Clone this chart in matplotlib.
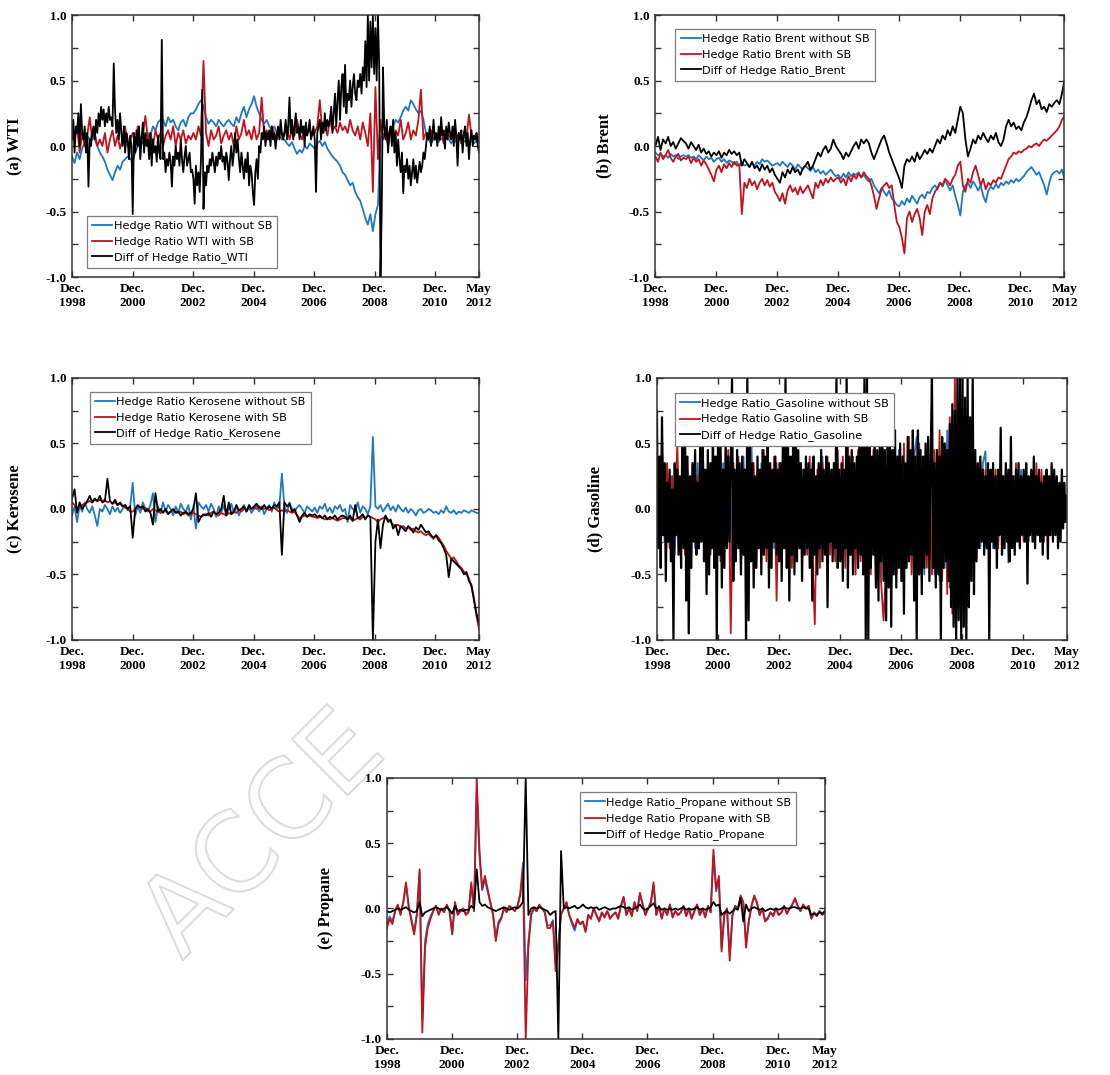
import numpy as np
import matplotlib
matplotlib.use("Agg")
import matplotlib.pyplot as plt
import matplotlib.patheffects as pe
from matplotlib.ticker import MultipleLocator

# time axis: Dec 1998 .. May 2012 (decimal years)
T_START = 1998.92
T_END = 2012.37
tick_pos = [1998.92, 2000.92, 2002.92, 2004.92, 2006.92, 2008.92, 2010.92, 2012.37]
tick_lab = ["Dec.\n1998", "Dec.\n2000", "Dec.\n2002", "Dec.\n2004", "Dec.\n2006",
            "Dec.\n2008", "Dec.\n2010", "May\n2012"]

# ---------------- (a) WTI ----------------
wti_without = [
    -0.08, -0.13, -0.05, -0.10, -0.02, 0.03, 0.08, 0.05, 0.10, 0.05, 0.00, -0.05,
    -0.08, -0.12, -0.18, -0.22, -0.26, -0.20, -0.15, -0.18, -0.12, -0.10, -0.08, -0.10,
    -0.11, -0.05, 0.00, 0.05, 0.02, 0.07, 0.10, 0.08, 0.15, 0.12, 0.18, 0.20,
    0.20, 0.15, 0.22, 0.18, 0.20, 0.15, 0.12, 0.18, 0.20, 0.15, 0.22, 0.25,
    0.25, 0.28, 0.32, 0.35, 0.30, 0.22, 0.17, 0.20, 0.18, 0.15, 0.20, 0.17,
    0.15, 0.18, 0.20, 0.17, 0.15, 0.22, 0.18, 0.25, 0.30, 0.22, 0.28, 0.32,
    0.38, 0.30, 0.25, 0.20, 0.17, 0.20, 0.15, 0.12, 0.15, 0.10, 0.08, 0.05,
    0.05, 0.02, 0.00, 0.03, -0.02, -0.06, -0.03, -0.05, 0.00, -0.02, 0.02, 0.00,
    -0.02, 0.02, 0.04, 0.00, 0.03, -0.02, -0.05, -0.08, -0.10, -0.12, -0.15, -0.20,
    -0.22, -0.26, -0.30, -0.28, -0.35, -0.39, -0.42, -0.48, -0.55, -0.60, -0.52, -0.65,
    -0.52, -0.45, 0.05, 0.09, 0.10, 0.08, 0.12, 0.15, 0.20, 0.18, 0.22, 0.27,
    0.30, 0.27, 0.35, 0.32, 0.28, 0.25, 0.27, 0.20, 0.10, 0.05, 0.02, 0.05,
    0.05, 0.03, 0.06, 0.04, 0.08, 0.05, 0.02, 0.05, 0.03, 0.06, 0.02, 0.04,
    0.03, 0.00, 0.05, 0.02, 0.04, 0.00]
wti_with = [
    0.10, 0.05, 0.15, -0.05, 0.10, 0.00, 0.08, 0.22, 0.05, 0.10, 0.00, 0.05,
    0.00, 0.10, -0.05, 0.05, 0.12, 0.00, 0.08, -0.02, 0.05, 0.15, 0.00, 0.05,
    0.10, 0.00, 0.15, 0.05, 0.08, 0.23, 0.05, 0.10, 0.00, 0.12, 0.05, 0.10,
    0.00, 0.08, 0.12, 0.05, 0.15, 0.00, 0.10, 0.05, 0.12, 0.02, 0.08, 0.05,
    0.10, 0.05, 0.15, 0.08, 0.65, 0.10, 0.00, 0.12, 0.05, 0.08, 0.15, 0.02,
    0.08, 0.12, 0.05, 0.10, 0.00, 0.15, 0.05, 0.10, 0.20, 0.08, 0.12, 0.05,
    0.15, 0.05, 0.10, 0.37, 0.08, 0.12, 0.05, 0.15, 0.10, 0.05, 0.12, 0.08,
    0.10, 0.15, 0.05, 0.12, 0.08, 0.20, 0.10, 0.05, 0.15, 0.10, 0.12, 0.08,
    0.10, 0.15, 0.35, 0.10, 0.15, 0.08, 0.20, 0.12, 0.15, 0.10, 0.18, 0.12,
    0.15, 0.10, 0.20, 0.12, 0.08, 0.15, 0.05, 0.18, 0.10, 0.00, 0.25, -0.35,
    0.45, -0.10, 0.20, 0.05, 0.10, 0.00, 0.15, 0.05, 0.12, 0.08, 0.20, 0.05,
    0.10, 0.18, 0.05, 0.12, 0.08, 0.20, 0.43, 0.05, 0.10, 0.08, 0.12, 0.05,
    0.08, 0.05, 0.12, 0.02, 0.10, 0.08, 0.05, 0.15, 0.05, 0.10, 0.02, 0.08,
    0.05, 0.24, 0.08, 0.05, 0.10, 0.02]
wti_diff = [
    0.05, 0.20, -0.05, 0.15, 0.10, 0.25, 0.00, 0.32, 0.10, 0.05, 0.15, -0.05,
    0.10, -0.31, 0.05, 0.00, 0.10, 0.15, 0.05, 0.20, 0.10, 0.25, 0.15, 0.30,
    0.20, 0.28, 0.15, 0.25, 0.18, 0.30, 0.20, 0.22, 0.15, 0.63, 0.28, 0.10,
    0.20, 0.05, 0.25, 0.10, 0.00, 0.15, -0.05, 0.10, 0.05, -0.10, 0.08, 0.00,
    -0.52, 0.10, -0.05, 0.12, 0.00, 0.15, -0.10, 0.05, 0.18, -0.05, 0.10, 0.00,
    0.05, -0.10, 0.10, -0.15, 0.05, -0.05, 0.00, -0.12, 0.08, -0.05, -0.10, 0.81,
    -0.10, -0.05, -0.20, -0.10, -0.15, -0.05, -0.12, -0.31, -0.08, -0.15, 0.00, -0.10,
    -0.05, -0.15, 0.05, -0.10, -0.20, -0.08, 0.00, -0.15, -0.10, -0.05, -0.20, -0.18,
    -0.25, -0.44, -0.15, -0.30, -0.20, -0.35, -0.10, 0.43, -0.48, -0.20, -0.30, -0.15,
    -0.20, -0.10, -0.15, -0.05, -0.12, -0.20, -0.08, -0.15, -0.05, -0.10, 0.00, -0.12,
    -0.08, -0.18, -0.05, -0.12, -0.26, -0.10, 0.00, -0.15, -0.05, 0.10, -0.05, 0.05,
    -0.10, -0.20, -0.05, -0.15, -0.25, -0.10, -0.20, -0.05, -0.30, -0.15, -0.20, -0.35,
    -0.45, -0.20, -0.10, -0.25, 0.00, -0.05, 0.10, 0.05, 0.15, 0.00, 0.10, 0.05,
    0.12, 0.00, 0.15, 0.05, 0.10, -0.02, 0.08, 0.15, 0.05, 0.20, 0.10, 0.05,
    0.10, 0.20, 0.05, 0.15, 0.37, 0.10, 0.20, 0.05, 0.15, 0.25, 0.10, 0.15,
    0.05, 0.20, 0.10, 0.15, 0.00, 0.18, 0.08, 0.12, 0.20, 0.05, 0.10, 0.15,
    0.05, -0.35, 0.10, 0.15, 0.20, 0.05, 0.18, 0.10, 0.25, 0.12, 0.20, 0.15,
    0.20, 0.30, 0.10, 0.25, 0.40, 0.15, 0.35, 0.50, 0.20, 0.45, 0.55, 0.30,
    0.62, 0.25, 0.40, 0.35, 0.50, 0.30, 0.45, 0.55, 0.40, 0.35, 0.50, 0.45,
    0.55, 0.40, 0.60, 0.50, 0.80, 0.45, 1.00, 0.50, 0.95, 0.60, 1.00, 0.55,
    0.90, 0.50, 1.00, 0.60, -1.00, -0.48, 0.60, 0.15, 0.05, 0.20, -0.05, 0.10,
    0.15, 0.00, 0.20, -0.05, 0.10, -0.15, 0.05, -0.10, -0.20, -0.05, -0.36, -0.15,
    -0.20, -0.10, -0.25, -0.15, -0.30, -0.20, -0.10, -0.25, -0.15, -0.28, -0.20, -0.12,
    -0.20, -0.15, -0.05, -0.10, 0.00, 0.10, 0.05, 0.15, 0.00, 0.08, 0.20, 0.05,
    0.10, 0.00, 0.15, 0.05, 0.22, 0.08, 0.12, -0.02, 0.15, 0.05, 0.18, 0.10,
    0.05, 0.15, 0.00, 0.20, 0.08, -0.15, 0.10, 0.05, 0.12, -0.05, 0.10, 0.15,
    0.00, 0.10, -0.10, 0.05, 0.12, 0.00, 0.08, 0.05, 0.10, 0.00, -0.05]

# ---------------- (b) Brent ----------------
brent_without = [
    -0.05, -0.07, -0.06, -0.08, -0.07, -0.09, -0.06, -0.08, -0.07, -0.10, -0.08, -0.07,
    -0.08, -0.07, -0.09, -0.08, -0.10, -0.07, -0.09, -0.11, -0.08, -0.10, -0.09, -0.12,
    -0.10, -0.09, -0.12, -0.10, -0.13, -0.11, -0.12, -0.14, -0.12, -0.15, -0.13, -0.15,
    -0.14, -0.16, -0.13, -0.15, -0.12, -0.14, -0.10, -0.12, -0.11, -0.13, -0.15, -0.14,
    -0.13, -0.15, -0.12, -0.14, -0.16, -0.13, -0.15, -0.18, -0.14, -0.16, -0.18, -0.15,
    -0.17, -0.19, -0.16, -0.20, -0.18, -0.21, -0.19, -0.22, -0.20, -0.18, -0.21, -0.23,
    -0.22, -0.25, -0.21, -0.24, -0.20, -0.23, -0.21, -0.22, -0.20, -0.24, -0.22, -0.25,
    -0.27, -0.25, -0.30, -0.33, -0.36, -0.32, -0.35, -0.38, -0.34, -0.40, -0.42, -0.45,
    -0.46, -0.42, -0.45, -0.40, -0.43, -0.38, -0.41, -0.44, -0.39, -0.37, -0.40, -0.35,
    -0.36, -0.32, -0.30, -0.33, -0.28, -0.31, -0.26, -0.30, -0.34, -0.30, -0.38, -0.45,
    -0.53, -0.35, -0.30, -0.28, -0.32, -0.27, -0.30, -0.34, -0.30, -0.38, -0.43, -0.34,
    -0.31, -0.33, -0.29, -0.32, -0.28, -0.30, -0.27, -0.29, -0.26, -0.28, -0.25, -0.27,
    -0.25, -0.23, -0.20, -0.18, -0.16, -0.19, -0.22, -0.20, -0.25, -0.30, -0.37, -0.28,
    -0.22, -0.20, -0.19, -0.21, -0.18, -0.25]
brent_with = [
    -0.08, -0.12, -0.05, -0.10, -0.07, -0.03, -0.09, -0.12, -0.08, -0.06, -0.11, -0.09,
    -0.10, -0.08, -0.13, -0.09, -0.12, -0.10, -0.15, -0.11, -0.14, -0.18, -0.22, -0.27,
    -0.18, -0.15, -0.20, -0.14, -0.17, -0.13, -0.16, -0.12, -0.15, -0.14, -0.52, -0.28,
    -0.32, -0.25, -0.30, -0.27, -0.33, -0.28, -0.25, -0.30, -0.26, -0.31, -0.28, -0.35,
    -0.38, -0.42, -0.36, -0.44, -0.34, -0.30, -0.35, -0.32, -0.37, -0.31, -0.36, -0.33,
    -0.30, -0.35, -0.40, -0.28, -0.32, -0.26, -0.30, -0.25, -0.28, -0.24, -0.27, -0.25,
    -0.24, -0.28, -0.25, -0.30, -0.23, -0.27, -0.22, -0.25, -0.21, -0.24, -0.20, -0.23,
    -0.25, -0.30, -0.38, -0.48, -0.40, -0.33, -0.30, -0.28, -0.32, -0.30, -0.45, -0.58,
    -0.62, -0.70, -0.82, -0.55, -0.50, -0.58, -0.52, -0.48, -0.55, -0.68, -0.50, -0.45,
    -0.52, -0.40, -0.35, -0.32, -0.28, -0.30, -0.25, -0.27, -0.30, -0.25, -0.22, -0.15,
    -0.12, -0.30, -0.35, -0.25, -0.28, -0.20, -0.15, -0.22, -0.30, -0.25, -0.33, -0.28,
    -0.30, -0.26, -0.28, -0.24, -0.25, -0.20, -0.15, -0.10, -0.08, -0.05, -0.06, -0.04,
    -0.05, -0.03, -0.02, 0.00, -0.01, 0.01, 0.02, 0.00, 0.03, 0.05, 0.04, 0.06,
    0.08, 0.10, 0.12, 0.15, 0.20, 0.23]
brent_diff = [
    0.00, 0.07, -0.03, 0.05, 0.02, 0.07, 0.00, 0.03, -0.02, 0.02, 0.06, 0.04,
    0.02, -0.02, 0.03, 0.00, -0.03, 0.01, -0.05, -0.02, -0.06, -0.04, -0.08, -0.05,
    -0.07, -0.04, -0.09, -0.05, -0.07, -0.03, -0.06, -0.04, -0.07, -0.05, -0.15, -0.10,
    -0.13, -0.16, -0.12, -0.17, -0.15, -0.19, -0.14, -0.18, -0.15, -0.20, -0.17, -0.22,
    -0.25, -0.28, -0.20, -0.24, -0.18, -0.21, -0.16, -0.20, -0.18, -0.22, -0.17, -0.15,
    -0.12, -0.18, -0.15, -0.10, -0.05, -0.08, -0.03, 0.00, -0.05, -0.02, 0.05, 0.00,
    -0.03, -0.06, -0.10, -0.05, -0.08, -0.04, 0.00, 0.03, -0.02, 0.05, 0.02, 0.05,
    0.02, -0.05, -0.10, -0.05, 0.00, 0.05, 0.08, 0.02, -0.05, -0.10, -0.15, -0.20,
    -0.25, -0.32, -0.15, -0.10, -0.12, -0.08, -0.12, -0.05, -0.10, -0.07, -0.03, -0.06,
    -0.02, -0.05, 0.00, 0.05, 0.02, 0.08, 0.05, 0.12, 0.08, 0.15, 0.10, 0.20,
    0.30, 0.25, 0.05, -0.08, -0.02, 0.05, 0.02, 0.08, 0.05, 0.10, 0.06, 0.03,
    0.08, 0.05, 0.10, 0.03, 0.00, 0.05, 0.15, 0.20, 0.15, 0.18, 0.13, 0.15,
    0.12, 0.18, 0.22, 0.28, 0.35, 0.40, 0.32, 0.35, 0.28, 0.30, 0.26, 0.32,
    0.30, 0.33, 0.35, 0.32, 0.40, 0.50]

# ---------------- (c) Kerosene ----------------
kero_without = [
    -0.05, 0.02, -0.10, 0.03, -0.02, 0.05, 0.00, -0.03, 0.02, -0.05, -0.13, 0.00,
    -0.02, 0.03, 0.00, -0.04, 0.02, -0.02, 0.01, -0.03, 0.00, 0.03, -0.01, 0.02,
    0.20, -0.05, 0.02, -0.03, 0.05, 0.00, -0.02, 0.03, 0.12, -0.10, 0.02, -0.03,
    0.05, -0.02, 0.03, 0.00, -0.05, 0.02, -0.03, 0.04, 0.00, -0.02, 0.03, -0.08,
    0.02, -0.15, 0.05, 0.02, 0.00, 0.03, -0.02, 0.04, 0.00, -0.06, 0.02, -0.03,
    0.03, -0.05, 0.00, 0.04, -0.03, 0.02, -0.05, 0.00, 0.03, -0.02, 0.01, -0.03,
    0.00, 0.03, -0.02, 0.02, -0.04, 0.00, 0.03, -0.02, 0.05, 0.00, 0.02, 0.27,
    0.02, -0.03, 0.05, 0.00, -0.02, 0.01, 0.03, 0.00, -0.03, 0.02, 0.00, -0.02,
    0.01, -0.03, 0.02, 0.00, 0.04, -0.02, 0.01, -0.03, 0.02, 0.00, 0.03, -0.02,
    0.00, -0.10, 0.03, 0.00, -0.02, 0.05, -0.03, 0.02, 0.00, -0.04, 0.02, 0.55,
    0.02, 0.00, 0.03, -0.02, 0.01, 0.04, -0.01, 0.02, -0.02, 0.03, 0.00, -0.02,
    0.01, -0.03, 0.00, -0.02, -0.05, -0.01, 0.00, -0.03, -0.02, 0.00, -0.01, -0.03,
    -0.02, -0.04, -0.01, -0.03, 0.02, -0.02, -0.03, -0.01, -0.04, -0.02, -0.03, -0.01,
    -0.02, -0.03, -0.01, -0.02, -0.03, -0.03]
kero_with = [
    0.05, 0.03, 0.00, 0.02, 0.03, 0.04, 0.05, 0.06, 0.05, 0.07, 0.06, 0.07,
    0.06, 0.07, 0.05, 0.06, 0.04, 0.05, 0.03, 0.04, 0.02, 0.01, 0.00, -0.02,
    -0.02, 0.00, 0.02, 0.01, 0.00, 0.01, -0.01, -0.02, 0.00, -0.01, -0.02, -0.03,
    -0.02, -0.01, -0.03, -0.02, -0.01, -0.02, -0.03, -0.02, -0.04, -0.03, -0.05, -0.04,
    -0.03, -0.04, -0.05, -0.06, -0.05, -0.04, -0.05, -0.03, -0.02, -0.04, -0.05, -0.03,
    -0.04, -0.05, -0.03, -0.04, -0.02, -0.03, -0.01, -0.02, 0.00, -0.01, 0.01, 0.00,
    0.01, 0.00, 0.02, 0.01, 0.00, 0.01, -0.01, 0.00, 0.01, -0.01, -0.02, -0.01,
    -0.02, -0.01, -0.02, -0.03, -0.02, -0.05, -0.07, -0.06, -0.05, -0.06, -0.05, -0.06,
    -0.06, -0.07, -0.06, -0.07, -0.08, -0.07, -0.08, -0.07, -0.08, -0.09, -0.08, -0.07,
    -0.07, -0.08, -0.07, -0.09, -0.08, -0.07, -0.08, -0.06, -0.07, -0.05, -0.06, -0.07,
    -0.08, -0.10, -0.08, -0.07, -0.06, -0.08, -0.10, -0.12, -0.13, -0.12, -0.14, -0.13,
    -0.15, -0.14, -0.16, -0.15, -0.17, -0.18, -0.17, -0.19, -0.20, -0.19, -0.21, -0.23,
    -0.20, -0.22, -0.25, -0.28, -0.32, -0.35, -0.38, -0.37, -0.40, -0.43, -0.45, -0.48,
    -0.50, -0.53, -0.60, -0.68, -0.82, -0.92]
kero_diff = [
    0.08, 0.15, -0.03, 0.05, 0.00, 0.03, 0.06, 0.10, 0.05, 0.08, 0.06, 0.10,
    0.05, 0.06, 0.23, 0.06, 0.04, 0.07, 0.03, 0.05, 0.02, 0.03, 0.00, 0.02,
    -0.22, 0.00, 0.03, 0.01, 0.02, -0.02, 0.00, -0.03, -0.12, 0.12, -0.02, 0.00,
    -0.03, 0.00, -0.04, -0.02, 0.00, -0.03, -0.02, -0.05, -0.03, -0.02, -0.04, -0.03,
    0.00, 0.12, -0.10, -0.06, -0.04, -0.05, -0.03, -0.06, -0.02, -0.04, -0.03, 0.00,
    0.10, -0.05, 0.05, -0.04, -0.02, 0.03, -0.01, 0.00, 0.02, -0.02, 0.03, 0.00,
    0.02, 0.04, 0.01, 0.00, 0.03, 0.00, 0.02, 0.00, 0.03, 0.02, 0.05, -0.35,
    0.05, 0.02, 0.04, -0.02, 0.00, -0.05, -0.10, -0.05, -0.03, -0.06, -0.04, -0.05,
    -0.04, -0.06, -0.05, -0.07, -0.05, -0.08, -0.06, -0.07, -0.05, -0.08, -0.06, -0.05,
    -0.06, -0.08, -0.05, -0.09, 0.03, -0.07, -0.06, -0.04, -0.08, -0.05, -0.06, -1.00,
    -0.25, -0.08, -0.30, -0.12, -0.05, -0.10, -0.08, -0.15, -0.12, -0.20, -0.13, -0.15,
    -0.17, -0.13, -0.15, -0.18, -0.14, -0.16, -0.12, -0.15, -0.18, -0.17, -0.20, -0.22,
    -0.20, -0.24, -0.26, -0.30, -0.35, -0.52, -0.38, -0.40, -0.42, -0.44, -0.46, -0.50,
    -0.48, -0.55, -0.58, -0.70, -0.80, -0.88]

# ---------------- (d) Gasoline ----------------
gas_without = [
    0.35, -0.30, 0.40, -0.25, 0.30, -0.20, 0.25, -0.35, 0.20, -0.30, 0.35, -0.25,
    0.30, -0.35, 0.25, -0.30, 0.35, -0.20, 0.43, -0.30, 0.25, -0.35, 0.30, -0.25,
    0.40, -0.30, 0.35, -0.25, 0.30, -0.40, 0.35, -0.30, 0.25, -0.35, 0.40, -0.30,
    0.30, 0.65, -0.35, 0.25, -0.30, 0.35, -0.25, 0.30, -0.35, 0.25, -0.30, 0.35,
    -0.30, 0.35, -0.25, 0.40, -0.35, 0.30, -0.25, 0.35, -0.30, 0.25, -0.35, 0.30,
    -0.25, 0.35, -0.30, 0.25, -0.35, 0.40, -0.30, 0.35, -0.25, 0.30, -0.35, 0.25,
    -0.30, 0.35, -0.25, 0.40, -0.30, 0.35, -0.40, 0.30, -0.35, 0.30, -0.25, 0.35,
    -0.40, 0.35, -0.45, 0.40, -0.50, 0.45, -0.40, 0.35, -0.45, 0.40, -0.35, 0.45,
    -0.40, 0.35, -0.45, 0.50, -0.35, 0.40, 0.55, -0.45, 0.40, -0.50, 0.45, -0.40,
    0.45, -0.50, 0.40, -0.55, 0.50, -0.45, 0.60, -0.60, 0.70, -0.70, 0.65, -0.75,
    0.55, -0.50, 0.45, -0.40, 0.35, -0.35, 0.30, -0.30, 0.35, 0.44, -0.30, 0.25,
    -0.30, 0.25, -0.25, 0.30, -0.30, 0.25, -0.41, 0.30, -0.25, 0.20, -0.25, 0.30,
    -0.20, 0.25, -0.25, 0.20, -0.20, 0.25, -0.15, 0.20, -0.20, 0.15, -0.20, 0.20,
    -0.15, 0.15, -0.10, 0.10, -0.08, 0.05]
gas_with = [
    0.45, -0.25, 0.55, -0.20, 0.35, -0.30, 0.25, -0.15, 0.50, -0.25, 0.30, -0.35,
    0.20, -0.30, 0.35, -0.20, 0.25, -0.25, 0.50, -0.40, 0.30, -0.35, 0.40, -0.30,
    0.35, -0.40, 0.30, -0.25, 0.45, -0.95, 0.35, -0.30, 0.40, -0.45, 0.30, -0.25,
    0.40, -0.30, 0.35, -0.45, 0.30, -0.35, 0.45, -0.40, 0.35, -0.30, 0.40, -0.70,
    0.35, -0.40, 0.45, -0.35, 0.30, -0.45, 0.40, -0.30, 0.35, -0.40, 0.30, -0.35,
    0.40, -0.35, -0.88, 0.30, -0.45, 0.35, -0.30, 0.40, -0.35, 0.30, -0.40, 0.45,
    -0.35, 0.40, -0.45, 0.50, -0.35, 0.40, -0.50, 0.45, -0.40, 0.35, -0.45, 0.40,
    -0.50, 0.45, -0.60, 0.40, -0.55, -0.85, -0.45, 0.55, -0.60, 0.45, -0.50, 0.40,
    -0.45, 0.50, -0.40, 0.55, -0.50, 0.45, -0.40, 0.50, -0.55, 0.40, -0.45, 0.35,
    -0.50, 0.45, -0.40, 0.60, -0.55, 0.50, -0.65, 0.70, -0.80, 1.00, -0.75, 0.80,
    -0.65, 0.60, -0.74, 0.40, -0.35, 0.30, -0.30, 0.35, -0.25, 0.30, -0.30, 0.25,
    -0.25, 0.30, -0.30, 0.35, -0.25, 0.30, -0.30, 0.25, -0.25, 0.35, -0.20, 0.25,
    -0.25, 0.30, -0.20, 0.25, -0.25, 0.35, -0.20, 0.30, -0.25, 0.20, -0.20, 0.25,
    -0.15, 0.20, -0.20, 0.15, -0.10, 0.10]
gas_diff = [
    0.75, -0.30, 0.40, -0.45, 0.70, -0.20, 0.35, -0.55, 0.20, -0.25, 0.30, -0.40,
    0.15, -1.00, 0.35, -0.20, 0.30, -0.35, 0.25, -0.45, 0.60, -0.30, 0.80, -0.70,
    0.40, -0.95, 0.25, -0.45, 0.35, -0.25, 0.45, -0.35, 0.20, -0.30, 0.50, -0.25,
    0.55, -0.40, 0.30, -0.65, 0.45, -0.50, 0.35, -0.30, 0.60, -0.45, 0.40, -1.00,
    0.60, -0.35, 0.50, -0.60, 0.30, -0.45, 0.55, -0.30, 0.40, -0.25, 0.35, 1.00,
    -0.55, 0.30, -0.40, 0.45, -0.30, 0.35, -0.50, 0.40, -0.35, 0.30, -1.00, 1.00,
    -0.85, 0.55, -0.40, 0.35, -0.60, 0.25, -0.45, 0.40, -0.30, 0.30, -0.50, 0.45,
    -0.35, 0.40, -0.30, 0.50, -0.60, 0.35, -0.45, 0.30, -0.25, 0.40, -0.35, 0.30,
    -0.40, 0.35, -0.55, 0.60, -0.30, 1.00, -0.45, 0.50, -0.70, 0.40, -0.35, 0.55,
    -0.50, 0.75, -0.40, 0.45, -0.30, 0.35, -0.55, 0.30, -0.35, 0.40, -0.30, 0.35,
    -0.45, 0.30, -0.70, 0.40, -0.35, 0.25, -0.50, 0.35, -0.30, 0.45, -0.40, 0.30,
    -0.35, 0.40, -0.75, 0.35, -0.25, 0.30, -0.40, 0.35, -0.30, 1.00, -0.45, 0.30,
    -0.40, 0.35, -0.55, 0.30, -0.30, 1.00, -0.60, 0.40, -0.35, 0.45, -0.50, 0.35,
    -0.30, 0.40, -0.45, 0.55, -0.35, 0.60, -0.50, 1.00, -1.00, 1.00, -1.00, 0.50,
    -0.45, 0.40, -0.35, 0.55, -0.60, 0.45, -0.70, 0.50, -0.40, 0.60, -0.55, 0.45,
    -0.85, 0.50, -0.60, 0.55, -0.90, 0.45, -0.50, 0.60, -0.60, 0.40, -0.45, 0.50,
    -0.55, 0.40, -0.80, 0.35, -0.45, 0.55, -0.40, 0.45, -0.35, 0.60, -0.70, 0.40,
    -1.00, 0.60, -0.50, 0.45, -0.65, 0.40, -0.45, 0.50, -0.35, 0.55, -0.55, 0.40,
    1.00, -0.45, 0.35, -0.60, 0.45, -0.50, 0.40, -1.00, 0.55, -0.45, 0.50, -0.40,
    0.45, -0.55, 0.65, -0.75, 0.80, -0.90, 0.75, -1.00, 1.00, -0.85, 1.00, -1.00,
    1.00, -0.90, 0.85, -1.00, 1.00, -0.75, 0.70, -0.55, 1.00, -0.65, 0.45, -0.40,
    0.35, -0.30, 0.40, -0.25, 0.30, -0.35, 0.25, -0.30, 0.35, -1.00, 0.30, -0.25,
    0.35, -0.30, 0.25, -0.45, 0.30, -0.20, 0.62, -0.35, 0.25, -0.30, 0.35, -0.25,
    0.30, -0.40, 0.55, -0.30, 0.25, -0.35, 0.30, -0.25, 0.35, -0.30, 0.25, -0.20,
    0.30, -0.25, 0.35, -0.57, 0.25, -0.20, 0.30, -0.25, 0.40, -0.30, 0.25, -0.20,
    0.30, -0.25, 0.20, -0.35, 0.25, -0.20, 0.30, -0.38, 0.25, -0.20, 0.35, -0.25,
    0.30, -0.20, 0.25, -0.30, 0.20, -0.25, 0.30, -0.15, 0.20, -0.10, 0.10]

# ---------------- (e) Propane ----------------
prop_without = [
    -0.12, -0.06, -0.10, -0.02, 0.02, -0.04, 0.04, 0.18, 0.01, -0.08, -0.17, -0.04,
    0.28, -0.85, -0.25, -0.12, -0.06, -0.02, 0.02, -0.04, 0.00, -0.02, 0.02, -0.02,
    -0.18, 0.04, -0.04, -0.02, 0.00, -0.04, -0.02, 0.18, -0.02, 0.90, 0.40, 0.14,
    0.22, 0.13, 0.04, -0.04, -0.22, -0.10, -0.07, 0.00, -0.02, 0.02, 0.00, -0.02,
    0.02, 0.12, 0.35, -0.55, -0.25, -0.04, 0.00, -0.02, 0.02, 0.00, -0.02, -0.13,
    -0.13, -0.09, -0.42, -0.26, -0.04, 0.00, 0.04, -0.05, -0.12, -0.17, -0.09, -0.12,
    -0.10, -0.17, -0.05, -0.07, 0.00, -0.05, -0.09, -0.03, -0.06, -0.02, -0.07, -0.05,
    -0.03, -0.07, 0.02, 0.08, -0.05, 0.00, -0.05, 0.04, -0.02, 0.11, 0.03, -0.05,
    0.00, 0.04, 0.18, -0.05, 0.02, -0.07, 0.00, -0.05, 0.03, -0.06, -0.02, -0.05,
    -0.03, 0.02, -0.05, 0.00, -0.07, -0.02, 0.03, -0.05, 0.00, -0.06, 0.02, -0.03,
    0.40, 0.13, 0.22, -0.30, -0.05, 0.00, -0.36, -0.05, 0.02, 0.00, 0.09, 0.04,
    -0.27, -0.10, 0.02, 0.09, 0.04, -0.05, 0.00, -0.09, -0.07, -0.03, -0.05, 0.00,
    -0.05, -0.03, 0.02, -0.04, 0.00, 0.03, 0.07, 0.02, -0.02, 0.03, 0.00, 0.02,
    -0.07, -0.03, -0.05, -0.02, -0.04, -0.02]
prop_with = [
    -0.15, -0.08, -0.12, -0.02, 0.03, -0.05, 0.05, 0.20, 0.02, -0.10, -0.20, -0.05,
    0.30, -0.95, -0.30, -0.15, -0.08, -0.02, 0.02, -0.05, 0.00, -0.03, 0.03, -0.02,
    -0.20, 0.05, -0.05, -0.02, 0.00, -0.05, -0.03, 0.20, -0.02, 1.00, 0.45, 0.15,
    0.25, 0.15, 0.05, -0.05, -0.25, -0.12, -0.08, 0.00, -0.03, 0.02, 0.00, -0.02,
    0.02, 0.10, 0.30, -1.00, -0.30, -0.05, 0.00, -0.02, 0.03, 0.00, -0.03, -0.15,
    -0.15, -0.10, -0.48, -0.30, -0.05, 0.00, 0.05, -0.05, -0.10, -0.15, -0.08, -0.12,
    -0.10, -0.18, -0.05, -0.08, 0.00, -0.05, -0.10, -0.03, -0.07, -0.02, -0.08, -0.05,
    -0.03, -0.08, 0.02, 0.09, -0.05, 0.00, -0.06, 0.05, -0.02, 0.12, 0.03, -0.05,
    0.00, 0.05, 0.20, -0.05, 0.02, -0.08, 0.00, -0.05, 0.03, -0.07, -0.02, -0.05,
    -0.03, 0.02, -0.06, 0.00, -0.08, -0.02, 0.03, -0.05, 0.00, -0.07, 0.02, -0.03,
    0.45, 0.15, 0.25, -0.33, -0.05, 0.00, -0.40, -0.05, 0.02, 0.00, 0.10, 0.05,
    -0.30, -0.10, 0.02, 0.10, 0.05, -0.05, 0.00, -0.10, -0.08, -0.03, -0.06, 0.00,
    -0.05, -0.03, 0.02, -0.04, 0.00, 0.03, 0.08, 0.02, -0.02, 0.03, 0.00, 0.02,
    -0.08, -0.03, -0.06, -0.02, -0.05, -0.03]
prop_diff = [
    -0.02, -0.03, -0.02, -0.01, 0.00, -0.01, 0.00, 0.01, -0.01, -0.02, -0.03, -0.02,
    0.05, -0.06, -0.03, -0.02, -0.01, 0.00, 0.01, 0.00, -0.01, 0.00, 0.01, -0.01,
    -0.04, 0.02, -0.02, -0.01, -0.02, -0.01, -0.01, 0.02, 0.00, 0.30, 0.05, 0.02,
    0.03, 0.01, 0.00, -0.01, -0.02, -0.01, 0.00, 0.01, 0.00, -0.01, 0.00, 0.01,
    0.00, 0.02, 0.05, 1.00, -0.05, 0.00, 0.01, 0.00, 0.01, 0.00, -0.01, -0.02,
    -0.05, -0.03, -0.02, -1.00, 0.44, 0.00, 0.01, 0.00, 0.01, 0.02, 0.00, 0.01,
    0.03, 0.01, 0.00, 0.01, 0.00, 0.01, -0.01, 0.00, 0.01, 0.00, -0.01, 0.00,
    0.00, 0.01, 0.02, 0.01, 0.00, 0.01, -0.01, 0.00, 0.01, 0.03, 0.00, -0.01,
    0.00, 0.02, 0.04, 0.00, 0.01, -0.01, 0.00, -0.01, 0.00, -0.01, 0.00, -0.01,
    0.00, 0.01, -0.01, 0.00, -0.01, 0.00, 0.01, -0.01, 0.00, -0.01, 0.00, 0.01,
    0.05, 0.02, 0.03, -0.05, -0.03, -0.02, -0.04, -0.02, 0.00, -0.01, 0.08, -0.10,
    0.03, -0.02, 0.00, 0.01, 0.00, -0.01, 0.00, -0.02, -0.01, 0.00, -0.01, 0.00,
    -0.01, 0.00, 0.01, 0.00, 0.00, 0.01, 0.01, 0.00, 0.00, 0.01, 0.00, 0.00,
    -0.05, -0.04, -0.05, -0.03, -0.04, -0.02]

BLUE = "#1f78c1"
RED = "#c3121c"
BLACK = "#000000"
SERIF = "Liberation Serif"

fig = plt.figure(figsize=(11.10, 10.75), dpi=100)
fig.patch.set_facecolor("white")

# faint hollow watermark, kept behind the panels
wm = fig.text(0.238, 0.222, "ACCE", rotation=45, fontsize=78, family="DejaVu Sans",
              color="none", ha="center", va="center", zorder=-5)
wm.set_path_effects([pe.Stroke(linewidth=1.4, foreground="#dcdcdc")])


def panel(rect, ylabel, series, labels, leg_loc, leg_anchor, lab_x, lw_black=1.3):
    ax = fig.add_axes(rect)
    colors = [BLUE, RED, BLACK]
    widths = [1.3, 1.3, lw_black]
    for vals, lab, c, w in zip(series, labels, colors, widths):
        t = np.linspace(T_START, T_END, len(vals))
        ax.plot(t, vals, color=c, lw=w, label=lab)
    ax.set_xlim(T_START, T_END)
    ax.set_ylim(-1.0, 1.0)
    ax.set_xticks(tick_pos)
    ax.set_xticklabels(tick_lab, fontsize=9.5, fontweight="bold", family=SERIF,
                       linespacing=1.25)
    ax.yaxis.set_minor_locator(MultipleLocator(0.25))
    ax.set_yticks([-1.0, -0.5, 0.0, 0.5, 1.0])
    ax.set_yticklabels(["-1.0", "-0.5", "0.0", "0.5", "1.0"], fontsize=9.5,
                       fontweight="bold", family=SERIF)
    ax.tick_params(which="both", direction="in", top=True, right=True,
                   length=4, width=1.0, color="#333333", pad=4)
    for s in ax.spines.values():
        s.set_linewidth(1.1)
        s.set_color("#333333")
    ax.set_ylabel(ylabel, fontsize=12, fontweight="bold", family=SERIF)
    ax.yaxis.set_label_coords(lab_x, 0.5)
    leg = ax.legend(loc=leg_loc, bbox_to_anchor=leg_anchor, borderaxespad=0,
                    prop={"family": "DejaVu Sans", "size": 8.1},
                    handlelength=1.8, handletextpad=0.1, labelspacing=0.5,
                    borderpad=0.45, fancybox=False, framealpha=1.0)
    leg.get_frame().set_edgecolor("#7f7f7f")
    leg.get_frame().set_linewidth(0.9)
    for ln in leg.get_lines():
        ln.set_linewidth(1.3)
    return ax


panel([0.0649, 0.7423, 0.3667, 0.2437], "(a) WTI",
      [wti_without, wti_with, wti_diff],
      ["Hedge Ratio WTI without SB", "Hedge Ratio WTI with SB", "Diff of Hedge Ratio_WTI"],
      "lower left", (0.037, 0.034), -0.12)

panel([0.5905, 0.7423, 0.3685, 0.2437], "(b) Brent",
      [brent_without, brent_with, brent_diff],
      ["Hedge Ratio Brent without SB", "Hedge Ratio Brent with SB", "Diff of Hedge Ratio_Brent"],
      "upper left", (0.049, 0.947), -0.105)

panel([0.0649, 0.4047, 0.3667, 0.2437], "(c) Kerosene",
      [kero_without, kero_with, kero_diff],
      ["Hedge Ratio Kerosene without SB", "Hedge Ratio Kerosene with SB",
       "Diff of Hedge Ratio_Kerosene"],
      "upper left", (0.044, 0.947), -0.12)

panel([0.5918, 0.4047, 0.3694, 0.2437], "(d) Gasoline",
      [gas_without, gas_with, gas_diff],
      ["Hedge Ratio_Gasoline without SB", "Hedge Ratio Gasoline with SB",
       "Diff of Hedge Ratio_Gasoline"],
      "upper left", (0.044, 0.943), -0.13, lw_black=1.6)

panel([0.3486, 0.0335, 0.3946, 0.2428], "(e) Propane",
      [prop_without, prop_with, prop_diff],
      ["Hedge Ratio_Propane without SB", "Hedge Ratio Propane with SB",
       "Diff of Hedge Ratio_Propane"],
      "upper left", (0.44, 0.946), -0.12)

fig.savefig("out.png", dpi=100, facecolor="white")
